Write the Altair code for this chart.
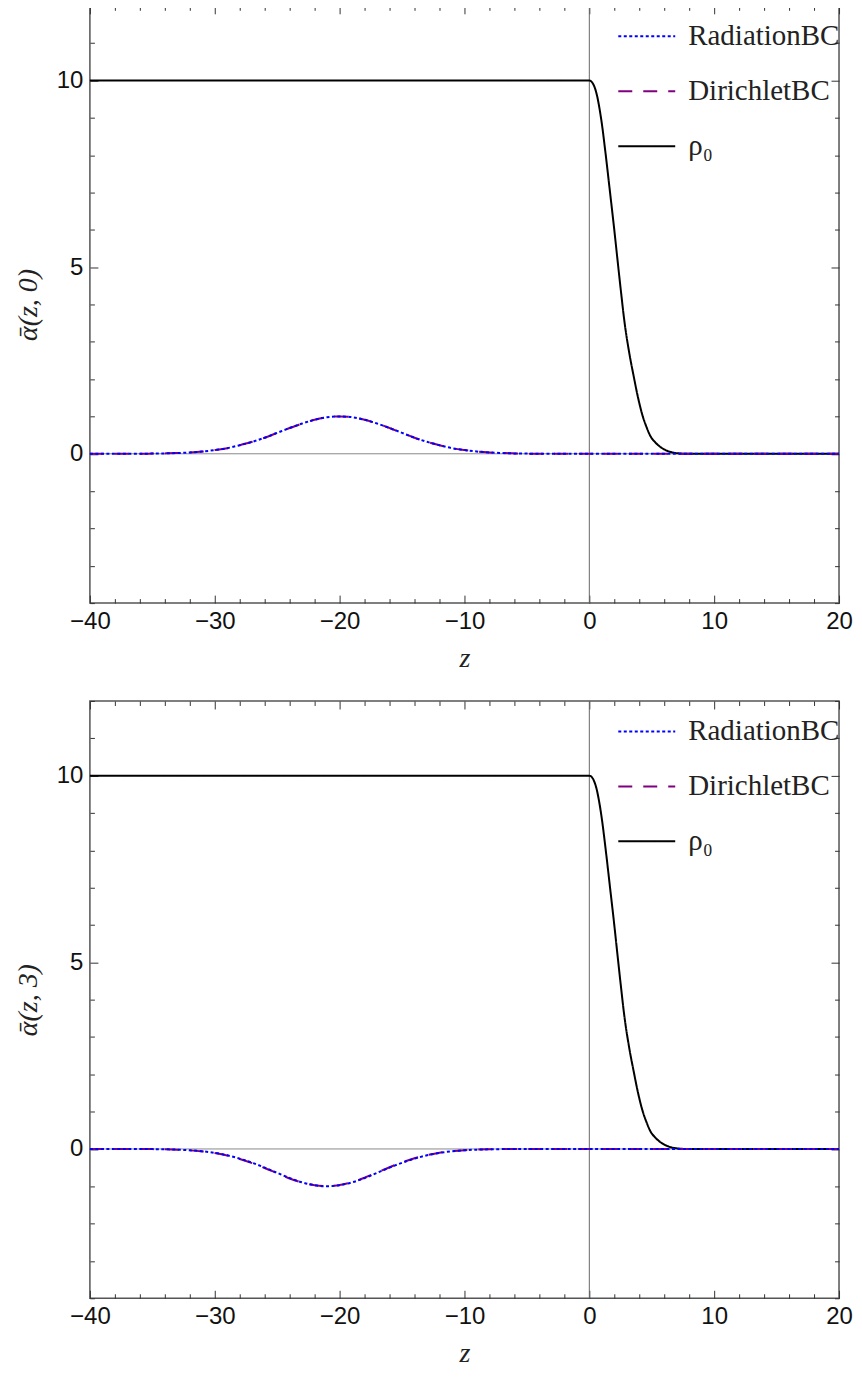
import altair as alt
import pandas as pd

SERIES = ["RadiationBC", "DirichletBC", "ρ₀"]
COLORS = ["#0000ff", "#800080", "#000000"]
DASHES = [[3, 2.5], [14, 11], [1, 0]]

X_MAJOR = [-40, -30, -20, -10, 0, 10, 20]
X_MINOR = [-38, -36, -34, -32, -28, -26, -24, -22, -18, -16, -14, -12,
           -8, -6, -4, -2, 2, 4, 6, 8, 12, 14, 16, 18]
Y_MAJOR = [0, 5, 10]
Y_MINOR = [-4, -3, -2, -1, 1, 2, 3, 4, 6, 7, 8, 9, 11, 12]

# top panel (t = 0): pulse centred near z = -20
top_z = [-40, -36, -35, -34, -33, -32, -31, -30, -29, -28, -27, -26, -25, -24,
         -23, -22, -21, -20, -19, -18, -17, -16, -15, -14, -13, -12, -11, -10,
         -9, -8, -7, -6, -5, -4, 20]
top_rad = [0, 0, 0.005, 0.01, 0.02, 0.035, 0.06, 0.10, 0.15, 0.23, 0.32, 0.43,
           0.56, 0.69, 0.81, 0.91, 0.98, 1.00, 0.98, 0.91, 0.81, 0.69, 0.56,
           0.43, 0.32, 0.23, 0.15, 0.10, 0.06, 0.035, 0.02, 0.01, 0.005, 0, 0]
top_dir = [0, 0, 0.005, 0.01, 0.02, 0.035, 0.06, 0.10, 0.15, 0.23, 0.32, 0.43,
           0.56, 0.69, 0.81, 0.91, 0.98, 1.00, 0.98, 0.91, 0.81, 0.69, 0.56,
           0.43, 0.32, 0.23, 0.15, 0.10, 0.06, 0.035, 0.02, 0.01, 0.005, 0, 0]

# bottom panel (t = 3): inverted pulse centred near z = -21
bot_z = [-40, -37, -36, -35, -34, -33, -32, -31, -30, -29, -28, -27, -26, -25,
         -24, -23, -22, -21, -20, -19, -18, -17, -16, -15, -14, -13, -12, -11,
         -10, -9, -8, -7, -6, -5, 20]
bot_rad = [0, 0, 0, -0.004, -0.009, -0.018, -0.035, -0.062, -0.105, -0.17,
           -0.26, -0.37, -0.50, -0.64, -0.78, -0.895, -0.97, -1.00, -0.97,
           -0.895, -0.78, -0.64, -0.50, -0.37, -0.26, -0.17, -0.105, -0.062,
           -0.035, -0.018, -0.009, -0.004, 0, 0, 0]
bot_dir = [0, 0, 0, -0.004, -0.010, -0.020, -0.038, -0.066, -0.11, -0.175,
           -0.27, -0.38, -0.51, -0.65, -0.79, -0.90, -0.97, -0.995, -0.965,
           -0.89, -0.77, -0.63, -0.49, -0.36, -0.25, -0.165, -0.10, -0.06,
           -0.033, -0.017, -0.008, -0.003, 0, 0, 0]

# background profile rho_0
rho_z = [-40, -1, 0, 0.2, 0.4, 0.6, 0.8, 1.0, 1.3, 1.65, 2.0, 2.24, 2.5, 2.83,
         3.2, 3.57, 3.84, 4.24, 4.6, 4.9, 5.3, 5.7, 6.1, 6.6, 7.2, 7.8, 20]
rho_top = [10, 10, 10, 9.96, 9.84, 9.62, 9.28, 8.85, 8.05, 7.03, 6.0, 5.25,
           4.45, 3.5, 2.7, 2.05, 1.6, 1.05, 0.7, 0.47, 0.3, 0.18, 0.1, 0.04,
           0.01, 0, 0]
rho_bot = [10, 10, 10, 9.96, 9.84, 9.62, 9.28, 8.85, 8.05, 7.03, 6.0, 5.25,
           4.45, 3.5, 2.7, 2.05, 1.6, 1.05, 0.7, 0.47, 0.3, 0.18, 0.1, 0.04,
           0.01, 0, 0]


def make_df(gz, rad, dirc, rz, rho):
    rows = []
    for z, v in zip(gz, rad):
        rows.append({"z": z, "value": v, "series": "RadiationBC"})
    for z, v in zip(gz, dirc):
        rows.append({"z": z, "value": v, "series": "DirichletBC"})
    for z, v in zip(rz, rho):
        rows.append({"z": z, "value": v, "series": "ρ₀"})
    return pd.DataFrame(rows)


def tick(n):
    return alt.ExprRef(expr=str(n))


def panel(df, ytitle, h):
    xs = alt.Scale(domain=[-40, 20], nice=False, zero=False)
    ys = alt.Scale(domain=[-4, 12], nice=False, zero=False)
    leg = alt.Legend(title=None, orient="none", legendX=528, legendY=1,
                     symbolType="stroke", symbolSize=3249, symbolStrokeWidth=2,
                     labelFont="Liberation Serif", labelFontSize=29,
                     labelColor="#222", labelOffset=12, rowPadding=10,
                     padding=0, labelLimit=400)
    color = alt.Color("series:N", scale=alt.Scale(domain=SERIES, range=COLORS), legend=leg)
    dash = alt.StrokeDash("series:N", scale=alt.Scale(domain=SERIES, range=DASHES), legend=leg)

    base = alt.Chart(df)
    zdf = pd.DataFrame({"zero": [0]})
    zero_h = alt.Chart(zdf).mark_rule(color="#8a8a8a", strokeWidth=1).encode(
        y=alt.Y("zero:Q", scale=ys, axis=None))
    zero_v = alt.Chart(zdf).mark_rule(color="#666666", strokeWidth=1).encode(
        x=alt.X("zero:Q", scale=xs, axis=None))

    x_major = alt.Axis(orient="bottom", values=X_MAJOR, tickSize=tick(-8), format="d",
                       labelFlush=False, labelPadding=14, title="z", titlePadding=11)
    y_major = alt.Axis(orient="left", values=Y_MAJOR, tickSize=tick(-8), format="d",
                       labelPadding=15, title=ytitle, titlePadding=14)

    def line(s, xa=None, ya=None):
        return base.transform_filter(alt.datum.series == s).mark_line(
            strokeWidth=2, interpolate="monotone").encode(
            x=alt.X("z:Q", scale=xs, axis=xa),
            y=alt.Y("value:Q", scale=ys, axis=ya),
            color=color, strokeDash=dash)

    black = line("ρ₀", x_major, y_major)
    purple = line("DirichletBC")
    blue = line("RadiationBC")

    def axis_layer(xa, ya):
        return base.mark_line(opacity=0).encode(
            x=alt.X("z:Q", scale=xs, axis=xa),
            y=alt.Y("value:Q", scale=ys, axis=ya),
            detail="series:N")

    a1 = axis_layer(
        alt.Axis(orient="bottom", values=X_MINOR, tickSize=tick(-4.5), labels=False, title=None),
        alt.Axis(orient="left", values=Y_MINOR, tickSize=tick(-4.5), labels=False, title=None))
    a2 = axis_layer(
        alt.Axis(orient="top", values=X_MAJOR, tickSize=tick(-8), labels=False, title=None),
        alt.Axis(orient="right", values=Y_MAJOR, tickSize=tick(-8), labels=False, title=None))
    a3 = axis_layer(
        alt.Axis(orient="top", values=X_MINOR, tickSize=tick(-4.5), labels=False, title=None),
        alt.Axis(orient="right", values=Y_MINOR, tickSize=tick(-4.5), labels=False, title=None))

    return alt.layer(zero_h, zero_v, black, purple, blue, a1, a2, a3).resolve_axis(
        x="independent", y="independent").properties(width=750, height=h)


df_top = make_df(top_z, top_rad, top_dir, rho_z, rho_top)
df_bot = make_df(bot_z, bot_rad, bot_dir, rho_z, rho_bot)

chart = alt.vconcat(
    panel(df_top, "ᾱ(z, 0)", 598),
    panel(df_bot, "ᾱ(z, 3)", 598),
    spacing=26,
).resolve_scale(color="independent", strokeDash="independent").properties(
    padding={"left": 5, "top": -5, "right": 0, "bottom": 0}
).configure_view(stroke="#555555", strokeWidth=1.5).configure_axis(
    labelFont="Liberation Sans", labelFontSize=24, labelColor="#111",
    tickColor="#333", tickWidth=1, domain=False, grid=False,
    titleFont="Liberation Serif", titleFontStyle="italic", titleFontWeight="normal",
    titleFontSize=28, titleColor="#222")

chart.save("out.html", embed_options={"renderer": "svg", "actions": False})
